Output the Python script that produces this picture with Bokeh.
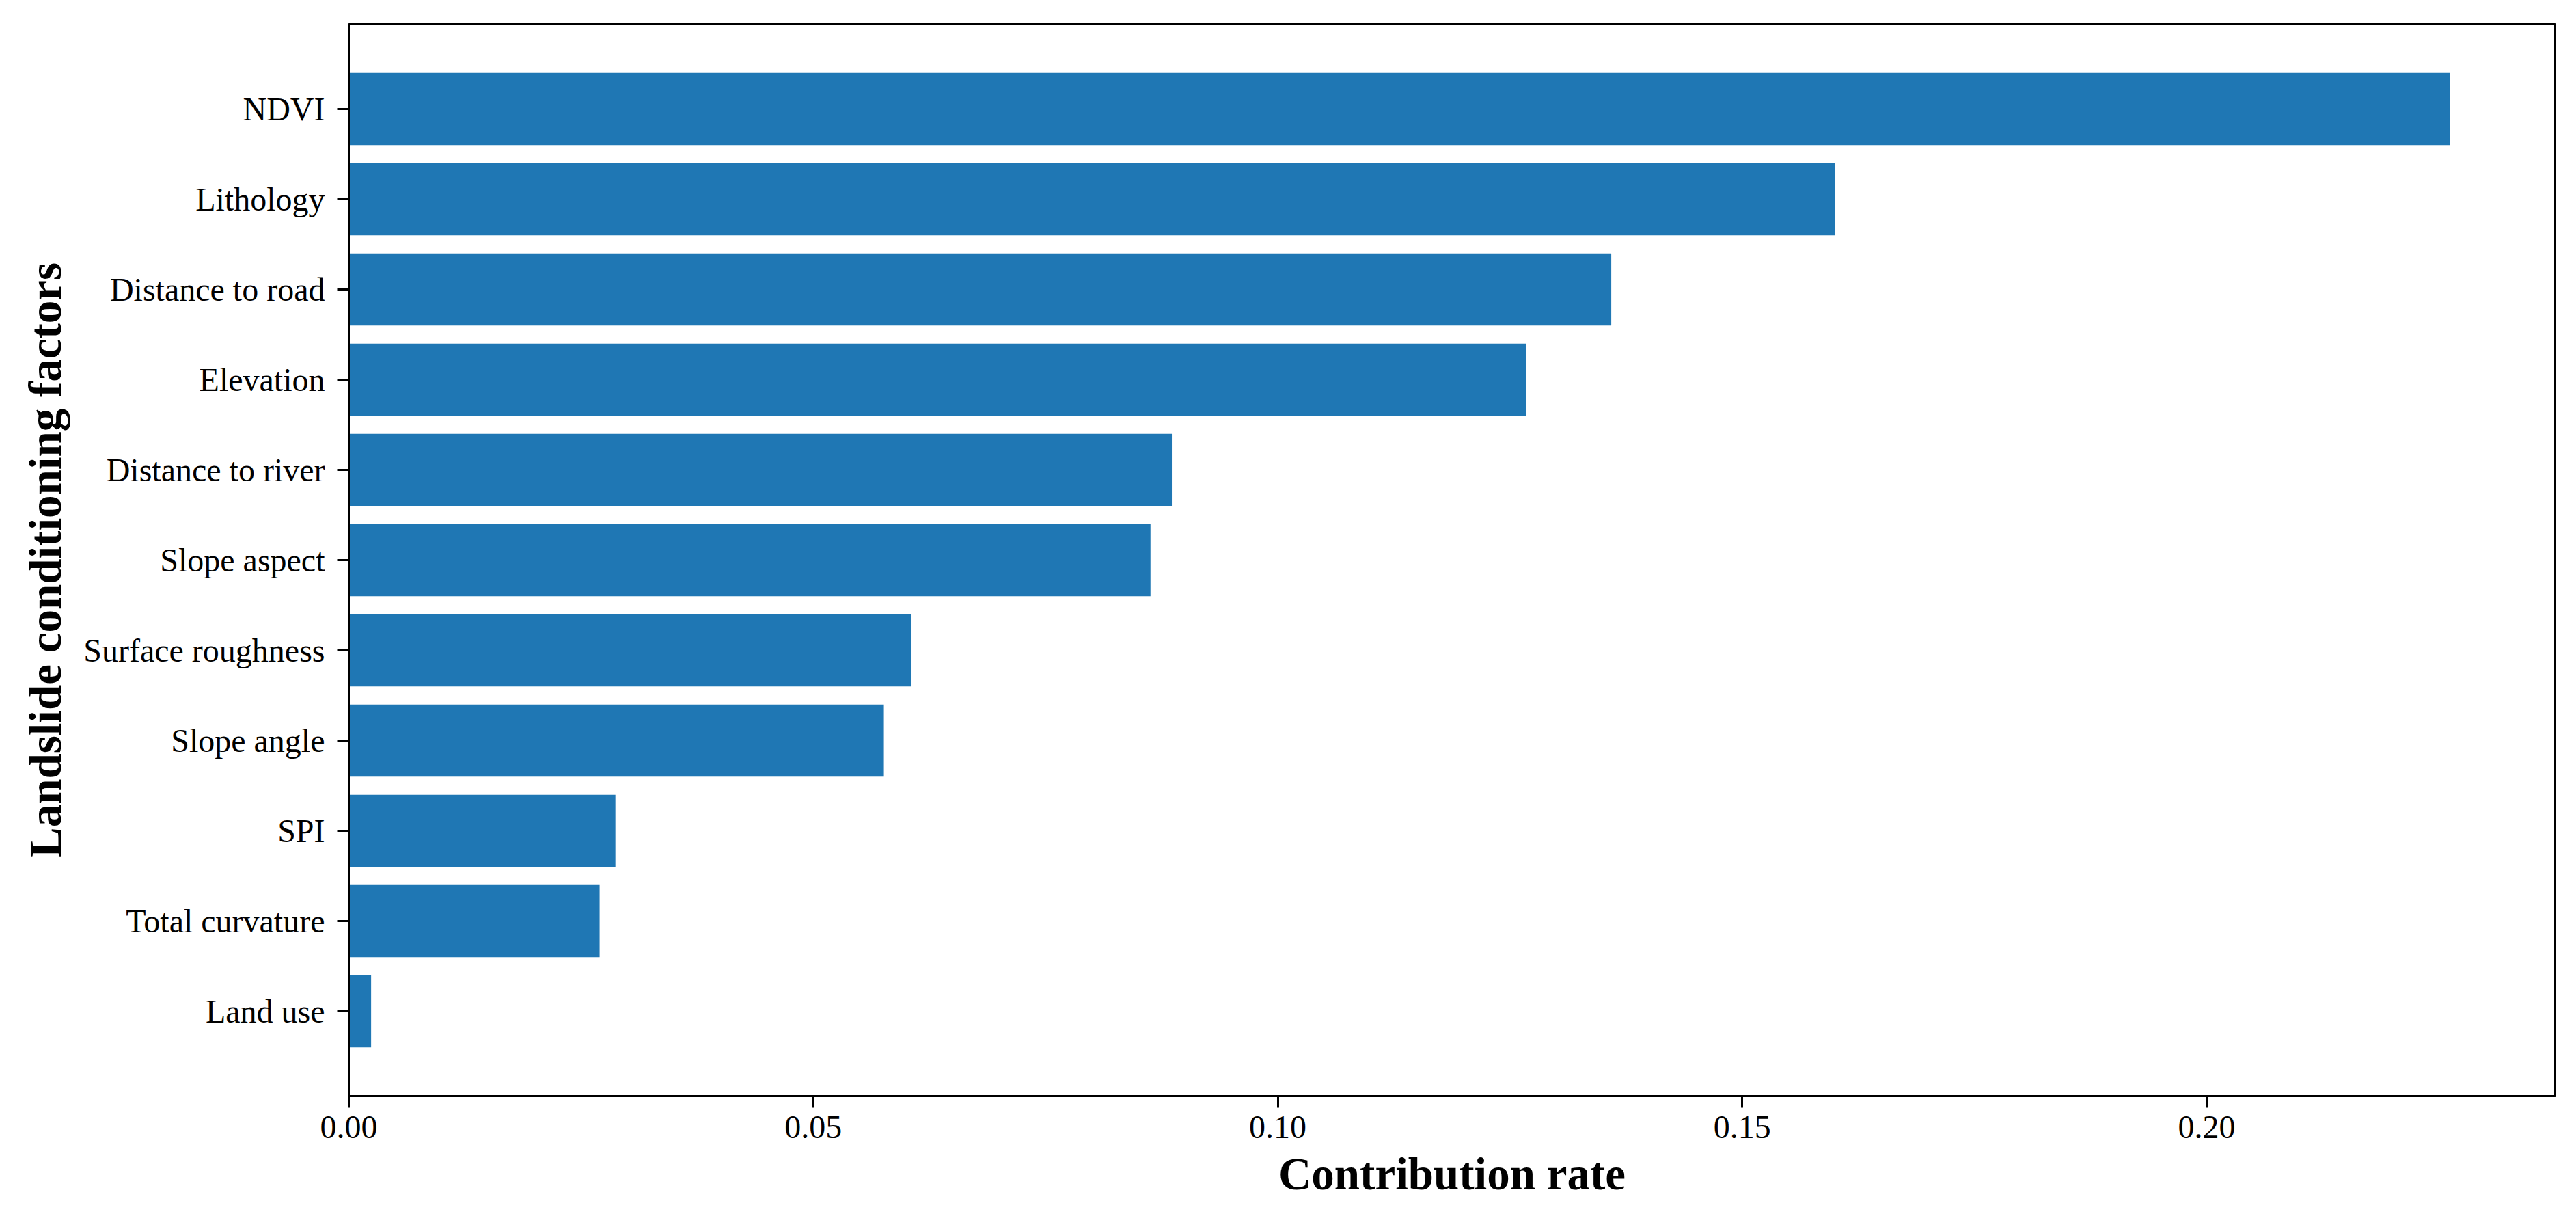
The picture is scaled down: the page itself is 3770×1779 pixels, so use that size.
from bokeh.plotting import figure
from bokeh.models import ColumnDataSource, Range1d, FixedTicker, NumeralTickFormatter
from bokeh.embed import file_html
from bokeh.resources import INLINE

# ---- data (top to bottom) ----
factors = ["NDVI", "Lithology", "Distance to road", "Elevation", "Distance to river",
           "Slope aspect", "Surface roughness", "Slope angle", "SPI", "Total curvature", "Land use"]
contribution = [0.2262, 0.1600, 0.1359, 0.1267, 0.0886, 0.0863, 0.0605, 0.0576, 0.0287, 0.0270, 0.0024]
x_ticks = [0.00, 0.05, 0.10, 0.15, 0.20]

positions = list(range(len(factors)))
src = ColumnDataSource(dict(y=positions, v=contribution, name=factors))

n = len(factors)
p = figure(width=3770, height=1779, output_backend="svg", toolbar_location=None,
           x_range=Range1d(0, max(contribution) * 1.05),
           y_range=Range1d(start=n - 1 + 0.94, end=-0.94),
           min_border_left=510, min_border_right=31, min_border_top=35, min_border_bottom=176)

p.hbar(y="y", right="v", left=0, height=0.8, source=src, fill_color="#1f77b4", line_color=None)

p.xgrid.visible = False
p.ygrid.visible = False
p.outline_line_color = "black"
p.outline_line_width = 3
p.outline_line_alpha = 1.0
p.background_fill_color = "white"
p.border_fill_color = "white"

font = "Liberation Serif"

xa = p.xaxis[0]
xa.ticker = FixedTicker(ticks=x_ticks)
xa.formatter = NumeralTickFormatter(format="0.00")
xa.axis_label = "Contribution rate"

ya = p.yaxis[0]
ya.ticker = FixedTicker(ticks=positions)
ya.major_label_overrides = {i: f for i, f in zip(positions, factors)}
ya.axis_label = "Landslide conditioning factors"

for ax in (xa, ya):
    ax.axis_line_color = "black"
    ax.axis_line_width = 3
    ax.major_tick_line_color = "black"
    ax.major_tick_line_width = 3
    ax.major_tick_out = 17
    ax.major_tick_in = 0
    ax.minor_tick_out = 0
    ax.minor_tick_in = 0
    ax.major_label_text_font = font
    ax.major_label_text_font_size = "48px"
    ax.major_label_text_color = "black"
    ax.axis_label_text_font = font
    ax.axis_label_text_font_size = "67px"
    ax.axis_label_text_font_style = "bold"
    ax.axis_label_text_color = "black"

xa.major_label_standoff = 12
xa.axis_label_standoff = 12
ya.major_label_standoff = 18
ya.axis_label_standoff = 16

open("out.html", "w").write(file_html(p, INLINE))
